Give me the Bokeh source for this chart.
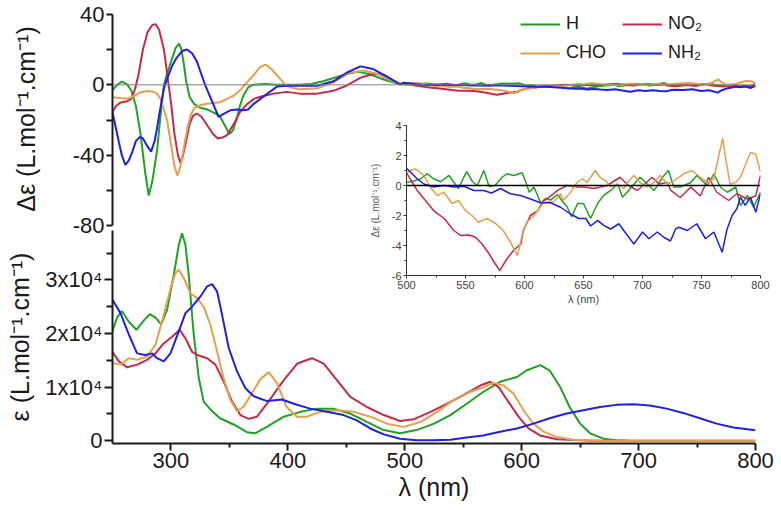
from bokeh.plotting import figure
from bokeh.models import Range1d, FixedTicker, Span, Legend, LegendItem
from bokeh.layouts import column
from bokeh.embed import file_html
from bokeh.resources import INLINE

FONT = "Liberation Sans"
C_H, C_NO2, C_CHO, C_NH2 = "#22a022", "#c42a4a", "#e3a04e", "#2020e0"

# ---------------- CD spectra (delta epsilon, L.mol-1.cm-1) ----------------
H_cd_nm = [250, 254, 258, 262, 266, 270, 274, 278, 281, 284, 288, 291, 294, 297, 300, 304, 307, 309, 311, 313,
           316, 320, 325, 331, 337, 342, 346, 350, 353, 356, 359, 362, 366, 370, 380, 390, 400, 410, 420, 430,
           440, 450, 460, 470, 480, 490, 496,
           500, 506, 512, 517.5, 523, 529, 536, 544, 551, 556, 560, 565.5, 570, 575, 581, 585, 591, 598, 601, 604,
           608, 614, 618, 622, 628, 632, 636, 640, 645, 650, 656, 662, 667, 673, 679, 683, 687, 693, 698, 704,
           710, 717, 722, 726.5, 732, 741, 746, 755, 760.5, 766, 772, 779, 783, 789, 794, 800]
H_cd = [-3, 0, 1.8, 0.5, -3, -12, -28, -50, -63, -55, -38, -18, 0, 7, 13, 21, 23.4, 20, 12, 2,
        -7, -11, -13, -14, -16, -18, -23, -28, -26, -20, -12, -6, -1.5, 0, 0.5, 0, 0, 0, 0.5, 2,
        4, 6, 7.5, 6, 3.5, 1.5, 0.5,
        0.2, 0.3, 0.45, 0.78, 0.45, 0.25, 0.67, -0.2, 0.93, 0.25, 0, 1.0, -0.07, 0, 0.55, 0.78, 0.67, 0.85, 0.25, -0.45,
        -0.1, -1.2, -0.85, -0.97, -0.6, -1.05, -1.4, -2.1, -1.2, -1.2, -2.2, -1.2, -0.67, -0.33, 0.1, -0.78, -0.45, 0.1, 0.55, 0.1,
        -0.33, 0.55, 1.0, -0.1, -0.1, 0.2, 0.67, 0, 0.78, -0.1, -0.45, -0.1, -1.33, -0.67, -1.45, -0.45]

NO2_cd_nm = [250, 253, 257, 262, 266, 269, 272, 276, 280, 284, 287, 290, 294, 297, 300, 303, 306, 308, 310, 313,
             316, 319, 322, 326, 331, 336, 340, 344, 348, 354, 359, 365, 371, 378, 388, 399, 410, 425, 439, 450,
             462, 473, 482, 490, 496,
             499, 503, 509, 515, 523, 532, 540, 546, 553, 558.5, 564, 570, 575, 579, 585, 591, 597, 599, 605, 611,
             616, 619, 628, 636, 645, 650, 659, 670, 681, 688, 695.5, 702, 708, 714, 721, 724, 732, 741, 749, 756,
             763, 773, 780, 789, 796, 800]
NO2_cd = [-15.5, -12, -10, -9.5, -8, -3, 5, 20, 30, 34, 34.5, 31, 20, 5, -10, -28, -40, -44.3, -41, -32,
          -22, -17.5, -16.3, -18, -23, -28, -30.5, -30, -28.6, -22, -15.5, -11, -8, -6.5, -5, -4, -5, -5, -3.4, -0.5,
          4, 6.3, 5.8, 2.6, 0.3,
          1.0, 0.45, -0.33, -0.9, -1.67, -2.2, -3.0, -3.33, -3.3, -3.45, -3.9, -4.55, -5.2, -5.67, -4.9, -4.3, -3.9, -3.0, -2.0, -1.7,
          -1.0, -0.9, -0.33, 0, -0.1, -0.1, -0.2, 0, 0.55, 0, -0.33, 0.1, 0.55, 0.1, 0.2, -0.33, -0.8, -0.1, -0.7, 0.55,
          -0.45, -1.0, -0.55, -0.9, -0.7, 0.67]

CHO_cd_nm = [250, 256, 263, 268, 274, 280, 285, 288, 291, 294, 297, 300, 303, 305.3, 307, 309.5, 312, 314, 317, 320,
             325, 331, 336, 342, 348, 354, 360, 365, 370, 376, 381, 386, 391, 398, 404, 411, 425, 439, 453, 465,
             476, 488, 496,
             499, 503, 507.6, 514.7, 520, 526, 531.6, 538.7, 544, 550, 555.6, 561, 568, 575, 582, 588, 594, 598, 602,
             608, 616.5, 625, 630.5, 633, 639, 644.6, 649, 653, 660, 664, 668.6, 673, 679, 684, 688.5, 692.7, 698,
             704, 709.6, 715, 721, 726.5, 735, 742, 749, 755, 760.5, 764.7, 768, 771, 774.3, 779, 783, 787, 791.5,
             796, 800]
CHO_cd = [-7, -7.5, -7.9, -6.5, -4.2, -3.5, -3.9, -5, -7.9, -14, -21, -34, -46, -51.6, -49, -42, -32, -25, -17, -13.3,
          -11.5, -10.8, -10.3, -9.9, -8, -6, -2.5, 1.4, 5, 9.9, 11.5, 9, 5.2, 0, -1.8, -2.5, -2, 1.4, 6.8, 8.2,
          6.3, 2.5, 0.3,
          0.78, 1.0, 1.1, 0.67, -0.1, -0.67, -0.45, -1.2, -1.0, -1.67, -2.0, -2.45, -2.2, -2.5, -3.0, -3.78, -4.67, -3.33, -2.45,
          -2.0, -1.1, -1.1, -0.55, -1.0, -0.45, 0.2, 0.45, 0.2, 1.0, 0.55, 0.33, -0.1, 0.1, -0.2, 0.33, 0.67, 0.2,
          -0.1, 0.2, 0.67, 0.1, 0.3, 0.78, 1.0, 0.55, 0.2, 0.45, 2.0, 3.15, 1.55, 0.1, 0.2, 0.55, 1.33, 2.2,
          2.1, 0.9]

NH2_cd_nm = [250, 253, 255.4, 258, 261, 264, 267, 270, 273.4, 276, 279, 283, 286, 288, 291, 294, 297, 301, 305, 309.5,
             313.8, 318, 322, 326, 329.5, 333, 336.6, 340.8, 345, 350.8, 356, 362, 366, 370.8, 376.5, 382, 390.7, 400, 410, 425,
             439, 450.6, 462, 473, 485, 496,
             499, 503.4, 509, 514.7, 523, 531.6, 540, 548.6, 557, 565.5, 572, 579.7, 588, 596.6, 605, 613.6, 622, 630.5,
             639, 646, 652, 656, 662, 667.5, 673, 680, 686, 692.7, 700, 705.5, 712.5, 718, 723.7, 728, 731, 738,
             746, 753.4, 760.5, 767.5, 771.7, 776, 780, 783, 787, 791.5, 796, 800]
NH2_cd = [-15.5, -25, -32.4, -40, -45.5, -43, -38, -32, -29.6, -30.5, -34, -38, -32, -25, -13, -2, 4, 10.8, 15.5, 19.2,
          20.1, 18, 13.6, 6, -0.5, -6, -11.7, -18.3, -16.5, -14.5, -14, -14.5, -14, -10.8, -8, -5.2, -1, -0.5, -0.5, -0.5,
          2, 7, 10.5, 9, 4.5, 0.3,
          1.2, 0.9, 0.45, 0.1, -0.1, 0, -0.1, -0.05, -0.33, -0.33, -0.5, -0.2, -0.55, -0.67, -0.9, -1.15, -1.15, -1.45,
          -1.9, -2.2, -2.2, -2.7, -2.33, -2.67, -2.9, -2.55, -3.2, -3.9, -3.1, -3.55, -3.1, -3.45, -3.7, -2.9, -2.78, -3.0,
          -2.55, -3.55, -3.1, -4.45, -2.9, -2.0, -1.55, -0.78, -1.33, -0.78, -1.78, -0.55]

# ---------------- Absorption spectra (epsilon, L.mol-1.cm-1) ----------------
H_abs_nm = [250, 254, 258, 264, 270.5, 277, 282, 287, 291.6, 296.7, 302.4, 306.7, 309.5, 312.4, 315.2, 319.5, 323.8,
            328, 334, 342, 354, 365, 372, 382, 396.5, 411, 425, 439, 453, 468, 482, 496, 510, 525, 539, 553, 567,
            581.5, 596, 604, 616, 624, 633, 641, 650, 658.5, 670, 681, 692]
H_abs = [20500, 23000, 24200, 22200, 20700, 22500, 23600, 22900, 21700, 24400, 30900, 36500, 38700, 36500, 30900,
         19800, 11700, 7300, 5800, 4200, 3000, 1600, 1400, 2600, 4500, 5400, 6000, 6000, 5100, 3500, 2000, 1400,
         2000, 3200, 4800, 6900, 9100, 11000, 11900, 13100, 14100, 13100, 10000, 6300, 3200, 1400, 400, 100, 0]

NO2_abs_nm = [250, 255.4, 262.5, 271, 279.6, 286.8, 293.9, 301, 307.5, 312.4, 318, 323.8, 331, 338, 345, 352.3, 359.4,
              366.5, 373.6, 382, 396.5, 408, 420.6, 430.6, 442, 453.4, 467.6, 482, 496, 507.5, 522, 536, 550, 564.5,
              573, 580.3, 588.8, 597.3, 605.8, 615.7, 630, 660, 700, 750, 800]
NO2_abs = [16600, 14800, 13700, 14200, 15100, 16300, 18200, 19400, 20700, 19100, 16600, 15900, 15400, 14200, 11100,
           7300, 4800, 4100, 4500, 6900, 11300, 14400, 15400, 14400, 11300, 8200, 6300, 4800, 3700, 4000, 5400, 6900,
           8500, 10300, 11000, 10000, 7200, 4500, 2300, 1000, 300, 0, 0, 0, 0]

CHO_abs_nm = [250, 256.8, 264, 271, 279.6, 286.8, 293.9, 299.6, 303.8, 306.7, 311, 316.7, 322.4, 328, 333.8, 339.5, 345,
              350.8, 356.6, 362.3, 369.4, 376.5, 383.7, 390.8, 399, 407.8, 416.4, 427.8, 442, 456.3, 470.5, 484.8, 499,
              513.4, 527.6, 541.9, 556, 567.5, 576, 584.5, 593, 601.6, 610, 618.7, 630, 644.4, 667, 700, 750, 800]
CHO_abs = [14500, 14200, 15400, 15100, 15700, 17900, 23500, 28400, 31200, 31900, 30300, 27500, 26600, 25000, 21600,
           16600, 11700, 7600, 5500, 6400, 8900, 11500, 12800, 10700, 6300, 4500, 4500, 5400, 5700, 5400, 4500, 3200,
           2600, 3500, 5400, 7600, 9100, 10000, 10800, 10300, 8800, 5700, 3200, 1700, 700, 200, 0, 0, 0, 0]

NH2_abs_nm = [250, 256.8, 264, 271, 278, 284, 288, 293.9, 299.6, 306.7, 312.4, 318, 325.2, 331, 335.2, 339.5, 343.7,
              349.4, 356.6, 363.7, 370.8, 382.2, 395, 405, 419, 433.4, 447.6, 459, 470.5, 482, 496, 510, 525, 539,
              553, 567, 581.5, 596, 610, 624, 638.5, 652.7, 667, 681, 695.5, 709.7, 724, 738, 752.4, 766.7, 781, 800]
NH2_abs = [26300, 23800, 19800, 16300, 16000, 16300, 15400, 14800, 16300, 20400, 23800, 25000, 26900, 28800, 29200,
           27800, 23500, 17300, 12900, 9800, 8300, 7400, 7700, 6900, 6000, 5400, 4800, 3800, 2300, 1200, 400, 100,
           100, 200, 600, 1000, 1700, 2300, 3200, 4200, 5100, 5700, 6300, 6700, 6800, 6600, 6000, 5200, 4200, 3200,
           2500, 1950]

cd_ticks = [-80, -40, 0, 40]
cd_minor = [-60, -20, 20]
abs_ticks = [0, 10000, 20000, 30000]
abs_minor = [5000, 15000, 25000, 35000]
abs_tick_labels = ["0", "1x10⁴", "2x10⁴", "3x10⁴"]
nm_ticks = [300, 400, 500, 600, 700, 800]
nm_minor = [350, 450, 550, 650, 750]
ins_x_ticks = [500, 550, 600, 650, 700, 750, 800]
ins_x_minor = [525, 575, 625, 675, 725, 775]
ins_y_ticks = [-6, -4, -2, 0, 2, 4]
ins_y_minor = [-5, -3, -1, 1, 3]

series = [("H", C_H, H_cd_nm, H_cd, H_abs_nm, H_abs),
          ("NO₂", C_NO2, NO2_cd_nm, NO2_cd, NO2_abs_nm, NO2_abs),
          ("CHO", C_CHO, CHO_cd_nm, CHO_cd, CHO_abs_nm, CHO_abs),
          ("NH₂", C_NH2, NH2_cd_nm, NH2_cd, NH2_abs_nm, NH2_abs)]

BL, BR = 112, 20   # shared left / right borders (frames are aligned in the column)


def base(fig):
    fig.outline_line_color = None
    fig.grid.visible = False
    fig.background_fill_alpha = 0
    fig.border_fill_alpha = 0


def style_axis(ax, font_size, label_size, tick_out, minor_out, color="#1a1a1a", width=2):
    ax.axis_line_color = color
    ax.axis_line_width = width
    ax.major_tick_line_color = color
    ax.major_tick_line_width = width
    ax.minor_tick_line_color = color
    ax.minor_tick_line_width = width
    ax.major_tick_in = 0
    ax.minor_tick_in = 0
    ax.major_tick_out = tick_out
    ax.minor_tick_out = minor_out
    ax.major_label_text_font = FONT
    ax.major_label_text_font_size = font_size
    ax.major_label_text_color = "#1a1a1a"
    ax.axis_label_text_font = FONT
    ax.axis_label_text_font_size = label_size
    ax.axis_label_text_font_style = "normal"
    ax.axis_label_text_color = "#1a1a1a"


# ---------------- top panel: CD ----------------
top = figure(width=775, height=242, x_range=Range1d(250, 800), y_range=Range1d(-80, 41.14),
             output_backend="svg", toolbar_location=None, x_axis_location=None,
             min_border_left=BL, min_border_right=BR, min_border_top=12, min_border_bottom=17)
base(top)
top.border_fill_alpha = 1
top.add_layout(Span(location=0, dimension="width", line_color="#7f7f7f", line_width=1))
renderers = {}
for name, col, cx, cy, ax_, ay_ in series:
    renderers[name] = top.line(cx, cy, line_color=col, line_width=2)
ya = top.yaxis[0]
ya.ticker = FixedTicker(ticks=cd_ticks, minor_ticks=cd_minor)
ya.bounds = (-80, 40)
ya.major_label_overrides = {t: str(t) for t in cd_ticks}
ya.axis_label = "Δε (L.mol⁻¹.cm⁻¹)"
style_axis(ya, "22px", "25px", 6, 6)
ya.major_label_standoff = 2
ya.axis_label_standoff = 30

leg_common = dict(glyph_width=40, glyph_height=20, label_standoff=6, spacing=8, padding=0, margin=0,
                  border_line_color=None, background_fill_alpha=0, label_text_font=FONT,
                  label_text_font_size="18px", label_text_color="#1a1a1a")
leg1 = Legend(items=[LegendItem(label="H", renderers=[renderers["H"]]),
                     LegendItem(label="CHO", renderers=[renderers["CHO"]])],
              location=(408, 162), **leg_common)
leg2 = Legend(items=[LegendItem(label="NO₂", renderers=[renderers["NO₂"]]),
                     LegendItem(label="NH₂", renderers=[renderers["NH₂"]])],
              location=(510, 162), **leg_common)
top.add_layout(leg1)
top.add_layout(leg2)

# ---------------- bottom panel: absorption ----------------
bot = figure(width=775, height=280, x_range=Range1d(250, 800), y_range=Range1d(-500, 39200),
             output_backend="svg", toolbar_location=None,
             min_border_left=BL, min_border_right=BR, min_border_top=2, min_border_bottom=65,
             margin=(-14, 0, 0, 0))
base(bot)
for name, col, cx, cy, ax_, ay_ in series:
    bot.line(ax_, ay_, line_color=col, line_width=2)
xb = bot.xaxis[0]
xb.ticker = FixedTicker(ticks=nm_ticks, minor_ticks=nm_minor)
xb.axis_label = "λ (nm)"
style_axis(xb, "22px", "25px", 7, 4)
xb.major_label_standoff = 2
xb.axis_label_standoff = 2
yb = bot.yaxis[0]
yb.ticker = FixedTicker(ticks=abs_ticks, minor_ticks=abs_minor)
yb.major_label_overrides = dict(zip(abs_ticks, abs_tick_labels))
yb.axis_label = "ε (L.mol⁻¹.cm⁻¹)"
style_axis(yb, "22px", "25px", 8, 6)
yb.major_label_standoff = 2
yb.axis_label_standoff = 8

# ---------------- inset: CD 500-800 nm ----------------
INS_LEFT = 406 - BL
ins = figure(width=780 - INS_LEFT, height=193, x_range=Range1d(500, 800), y_range=Range1d(-6, 4),
             output_backend="svg", toolbar_location=None,
             min_border_left=BL, min_border_right=BR, min_border_top=8, min_border_bottom=35,
             margin=(117 - 508, 0, 0, INS_LEFT))
base(ins)
for name, col, cx, cy, ax_, ay_ in series:
    ins.line(cx, cy, line_color=col, line_width=1.5)
ins.add_layout(Span(location=0, dimension="width", line_color="#000000", line_width=1.5))
xi = ins.xaxis[0]
xi.ticker = FixedTicker(ticks=ins_x_ticks, minor_ticks=ins_x_minor)
xi.axis_label = "λ (nm)"
style_axis(xi, "11px", "11px", 3, 2, color="#333333", width=1)
xi.major_label_text_color = "#444444"
xi.axis_label_text_color = "#444444"
xi.major_label_standoff = 2
xi.axis_label_standoff = 1
yi = ins.yaxis[0]
yi.ticker = FixedTicker(ticks=ins_y_ticks, minor_ticks=ins_y_minor)
yi.major_label_overrides = {t: str(t) for t in ins_y_ticks}
yi.axis_label = "Δε (L.mol⁻¹.cm⁻¹)"
style_axis(yi, "11px", "10px", 3, 2, color="#333333", width=1)
yi.major_label_text_color = "#444444"
yi.axis_label_text_color = "#556070"
yi.major_label_standoff = 2
yi.axis_label_standoff = 8

layout = column(top, bot, ins)
open("out.html", "w").write(file_html(layout, INLINE))
